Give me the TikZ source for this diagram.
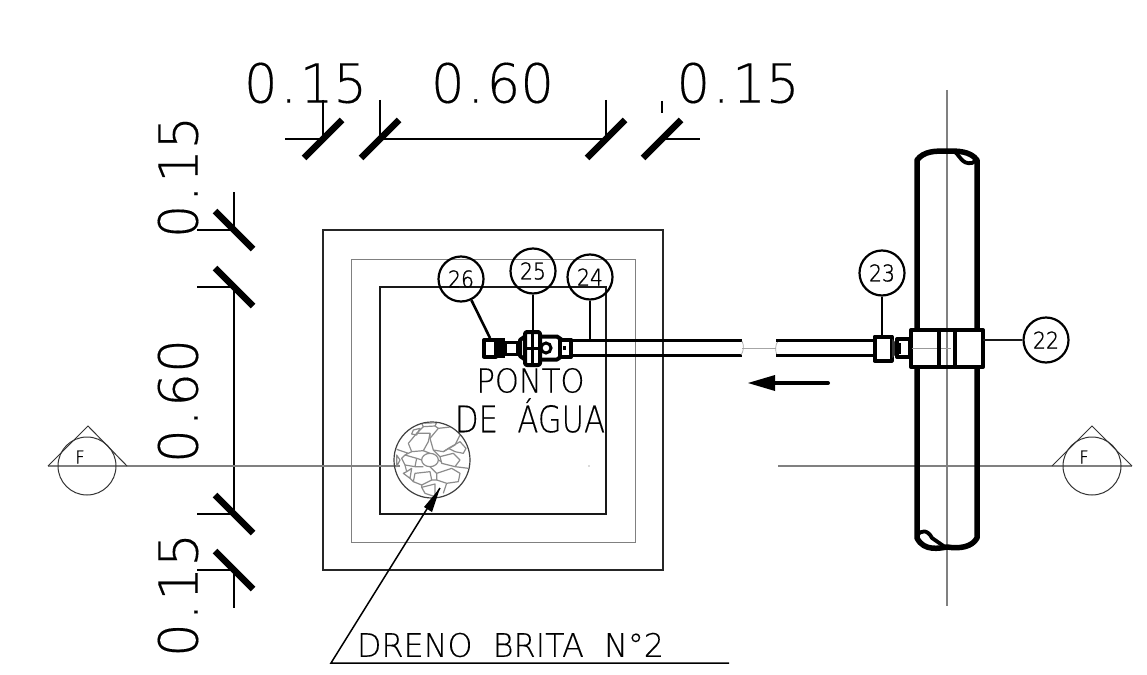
\documentclass[tikz,border=0pt]{standalone}
\usepackage{graphicx}
\usepackage{fontspec}
\usetikzlibrary{arrows.meta}
\newfontfamily\cad[FakeBold=0.25]{DejaVu Sans ExtraLight}
\newfontfamily\cadb[FakeBold=1.2]{DejaVu Sans ExtraLight}
\newcommand{\fit}[3]{\resizebox{#1pt}{#2pt}{\cad #3}}
\newcommand{\fitb}[3]{\resizebox{#1pt}{#2pt}{\cadb #3}}
\newcommand{\dotg}{\hspace{.05em}.\hspace{.05em}}
\tikzset{
  x=1pt,y=-1pt,
  lbl/.style={inner sep=0pt,outer sep=0pt,text=black},
  bubble/.style={circle,draw=black,line width=2.2pt,minimum size=45pt,inner sep=0pt},
  slash/.style={line width=6.5pt,black},
  dim/.style={line width=1.7pt,black},
  ext/.style={line width=1.4pt,black},
  axis/.style={line width=1.2pt,black!50},
  leader/.style={line width=2.6pt,black},
  pipe/.style={line width=3.6pt,black},
  wall/.style={line width=5.5pt,black,line cap=round,line join=round},
  stone/.style={draw=black!45,line width=1.2pt,line join=round},
  fitg/.style={line width=4pt,black,line join=round},
}
\begin{document}
\begin{tikzpicture}
\useasboundingbox[fill=white] (0,0) rectangle (1147,674);
% dimension texts
\node[lbl] (d1) at (305.5,83) {\fit{123}{40}{0\dotg15}};
\node[lbl] (d2) at (492.5,83) {\fit{123}{40}{0\dotg60}};
\node[lbl] (d3) at (738,83) {\fit{123}{40}{0\dotg15}};
\node[lbl,rotate=90] (d4) at (178,177) {\fit{122}{40}{0\dotg15}};
\node[lbl,rotate=90] (d5) at (178,401) {\fit{124}{40}{0\dotg60}};
\node[lbl,rotate=90] (d6) at (178,595) {\fit{124}{40}{0\dotg15}};
% top dimension line
\coordinate (t0) at (285,139); \coordinate (t1) at (323,139); \coordinate (t2) at (380,139);
\coordinate (t3) at (606,139); \coordinate (t4) at (662,139); \coordinate (t5) at (700,139);
\draw[dim] (t0) -- (t1) (t2) -- (t3) (t4) -- (t5);
\draw[ext] (323,100) -- (t1) (380,100) -- (t2) (606,100) -- (t3) (662,101) -- (662,113);
\foreach \c in {t1,t2,t3,t4} \draw[slash] ([shift={(-19,19)}]\c) -- ([shift={(19,-19)}]\c);
% left dimension line
\coordinate (l0) at (234,192); \coordinate (l1) at (234,230); \coordinate (l2) at (234,287);
\coordinate (l3) at (234,514); \coordinate (l4) at (234,570); \coordinate (l5) at (234,608);
\draw[dim] (l0) -- (l1) (l2) -- (l3) (l4) -- (l5);
\draw[ext] (197,230) -- (l1) (197,287) -- (l2) (197,514) -- (l3) (197,570) -- (l4);
\foreach \c in {l1,l2,l3,l4} \draw[slash] ([shift={(-19,-19)}]\c) -- ([shift={(19,19)}]\c);
% squares
\draw[line width=1.2pt,black!85] (323,230) rectangle (663,570);
\draw[line width=1pt,black!50] (351,259) rectangle (635,542);
\draw[line width=1.5pt,black!90] (380,287) rectangle (606,514);
\fill[black!60] (589,466) circle (.7);
% axes
\coordinate (a0) at (48,466); \coordinate (a1) at (400,466); \coordinate (a2) at (778,466); \coordinate (a3) at (1132,466);
\draw[axis] (a0) -- (a1) (a2) -- (a3);
\draw[axis] (947,90) -- (947,606);
% section marks
\node[circle,draw=black!80,line width=1pt,minimum size=58pt,inner sep=0pt] (fl) at (87,466) {};
\node[circle,draw=black!80,line width=1pt,minimum size=58pt,inner sep=0pt] (fr) at (1092,466) {};
\draw[line width=1pt,black!80] (48,466) -- (88,426) -- (127,466);
\draw[line width=1pt,black!80] (1052,466) -- (1092,426) -- (1132,466);
\node[lbl] (fla) at (80,457) {\fitb{9}{13}{F}};
\node[lbl] (fra) at (1084,457) {\fitb{9}{13}{F}};
% gravel
\node[circle,draw=black!75,line width=1.2pt,minimum size=76pt,inner sep=0pt] (gravel) at (432,460) {};
\begin{scope}[shift={(380,410)},x=0.3333pt,y=-0.3333pt]
\clip (155,150) circle (112);
\draw[stone] (150,85)--(175,55)--(220,50)--(240,75)--(225,105)--(190,125)--(160,120)--cycle;
\draw[stone] (125,40)--(170,38)--(165,48)--(130,50)--cycle;
\draw[stone] (85,100)--(110,70)--(150,70)--(145,95)--(130,122)--(95,125)--cycle;
\draw[stone] (100,60)--(120,55)--(110,75)--(95,72)--cycle;
\draw[stone] (150,150) ellipse (25 and 20);
\draw[stone] (65,145)--(75,135)--(110,145)--(105,170)--(75,165)--cycle;
\draw[stone] (180,140)--(220,130)--(240,150)--(225,170)--(185,160)--cycle;
\draw[stone] (205,115)--(240,95)--(258,115)--(250,130)--(225,125)--cycle;
\draw[stone] (105,190)--(150,185)--(155,210)--(125,225)--(100,215)--cycle;
\draw[stone] (170,190)--(215,175)--(240,190)--(235,215)--(200,220)--(170,210)--cycle;
\draw[stone] (80,185)--(95,175)--(90,205)--(70,190)--cycle;
\draw[stone] (50,135)--(60,150)--(50,170)--cycle;
\draw[stone] (125,232)--(165,222)--(165,260)--(135,250)--cycle;
\draw[stone] (50,118)--(85,130) (130,122)--(150,130) (160,120)--(180,140) (110,145)--(125,150) (175,150)--(185,155) (105,170)--(130,170) (150,170)--(170,190) (225,170)--(265,175) (130,50)--(110,70) (165,48)--(175,55) (150,70)--(150,85) (95,125)--(75,135) (190,125)--(205,115) (75,165)--(80,185) (155,210)--(170,210) (125,225)--(125,232) (200,220)--(190,250) (100,215)--(90,205) (240,75)--(262,95);
\end{scope}
% drain leader
\coordinate (dk) at (331,663); \coordinate (de) at (729,663); \coordinate (dt) at (440,488);
\draw[line width=1.5pt,black] (de) -- (dk) -- (dt);
\fill[black] (dt) -- (432,512) -- (424,507) -- cycle;
\node[lbl] (dreno) at (510.5,645) {\fit{307}{24}{DRENO\ \ BRITA\ \ N°2}};
% point text
\node[lbl] (ponto) at (530.5,380.5) {\fit{108}{24.5}{PONTO}};
\node[lbl] (agua) at (530,415.5) {\fit{150}{34}{DE\ \ ÁGUA}};
% left pipe run
\coordinate (pa) at (570,348); \coordinate (pb) at (742,348); \coordinate (pc) at (776,348); \coordinate (pd) at (873,348);
\draw[pipe] (pa |- 0,340.5) -- (pb |- 0,340.5) (pa |- 0,355.5) -- (pb |- 0,355.5);
\draw[line width=.7pt,black!35] (pb) -- (pc);
\draw[line width=.7pt,black!35] (742,341) .. controls (744,345) and (744,351) .. (741,355);
\draw[line width=.7pt,black!35] (778,341) .. controls (775,345) and (775,351) .. (777,355);
\draw[pipe] (pc |- 0,340.5) -- (pd |- 0,340.5) (pc |- 0,355.5) -- (pd |- 0,355.5);
% valve group
\draw[fitg,fill=white] (484,340) rectangle (496,356.5);
\fill[black] (496,338) rectangle (505,358);
\draw[line width=3pt,black,fill=white] (505,342) rectangle (517,354);
\draw[fitg,fill=white] (520,340) -- (525,336.5) -- (557,336.5) -- (565,342) -- (565,354) -- (557,359.5) -- (525,359.5) -- (520,356) -- cycle;
\draw[fitg,fill=white] (560,339.5) rectangle (571,357);
\fill[black] (563,346) rectangle (566,350);
\draw[fitg,fill=white,rounded corners=2pt] (525,332) rectangle (540,365);
\draw[line width=3pt,black] (525,348) -- (540,348);
\draw[line width=2.5pt,black] (532.5,333) -- (532.5,364);
\draw[line width=3pt,black,fill=white] (546,348) circle (5);
% main pipe
\draw[wall] (917,160) -- (917,538) .. controls (924,552) and (940,548) .. (947,547) .. controls (960,549) and (972,547) .. (977,538) -- (977,160) .. controls (970,151) and (958,151) .. (947,151) .. controls (935,151) and (924,151) .. (917,160);
\draw[line width=3.8pt,black,line join=round] (953,151) .. controls (960,154) and (961,165) .. (972,163) -- (977,160);
\draw[line width=3.8pt,black,line join=round] (917,536) .. controls (921,529) and (928,530) .. (932,538) -- (945,547);
% clamp
\draw[line width=4pt,black,fill=white,line join=round] (911,330) rectangle (983,367);
\draw[axis] (947,332) -- (947,365);
\draw[line width=.8pt,black!40] (898,348) -- (951,348);
\draw[line width=3.5pt,black] (939,330) -- (939,367) (955,330) -- (955,367);
% union near clamp
\draw[fitg,fill=white] (874.5,336.5) rectangle (891.5,360.5);
\fill[black!80] (892,339) -- (895,342) -- (895,355) -- (892,358) -- cycle;
\draw[fitg,fill=white] (897,339) rectangle (910,357);
\draw[line width=2pt,black] (900,343) -- (900,354);
% flow arrow
\coordinate (fa) at (828,383); \coordinate (fb) at (748,383);
\draw[line width=4pt,black,line cap=round] (fa) -- (772,383);
\fill[black] (fb) -- (775,375) -- (775,391) -- cycle;
% bubbles
\node[bubble] (b26) at (461,279) {\fitb{26}{17}{26}};
\node[bubble] (b25) at (533,271) {\fitb{26}{17}{25}};
\node[bubble] (b24) at (590,277) {\fitb{26}{17}{24}};
\node[bubble] (b23) at (882,273) {\fitb{26}{17}{23}};
\node[bubble] (b22) at (1046,340) {\fitb{26}{17}{22}};
\coordinate (e26) at (490,338); \coordinate (e25) at (533,331); \coordinate (e24) at (590,339); \coordinate (e23) at (882,336); \coordinate (e22) at (983,340);
\draw[leader] (b26) -- (e26);
\draw[leader] (b25) -- (e25);
\draw[leader] (b24) -- (e24);
\draw[leader] (b23) -- (e23);
\draw[line width=1.8pt,black!90] (b22) -- (e22);
\end{tikzpicture}
\end{document}
